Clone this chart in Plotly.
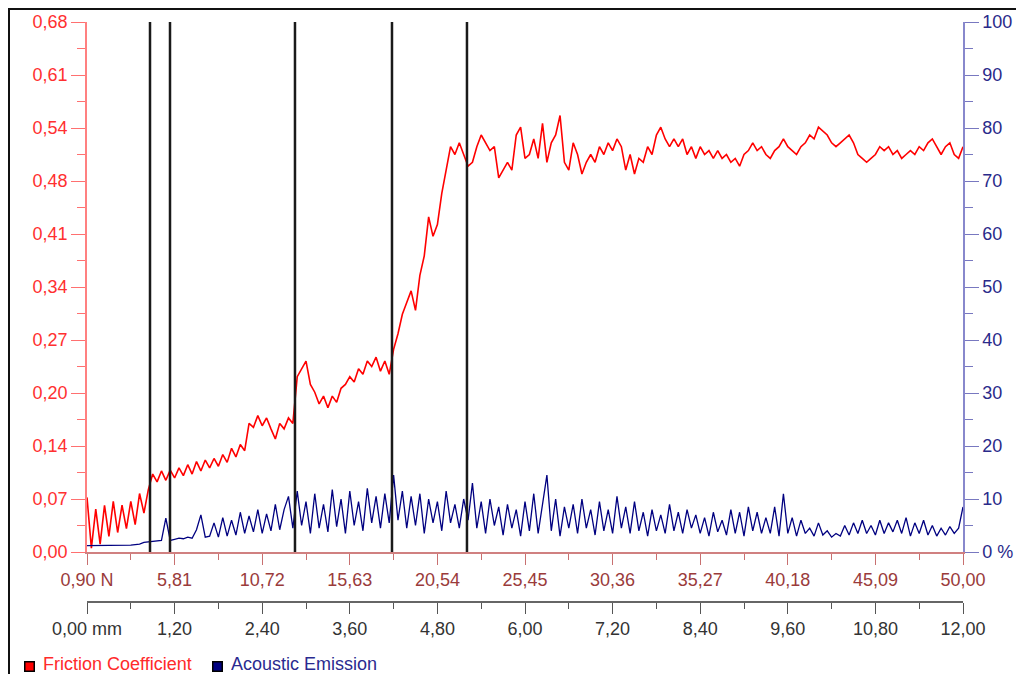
import plotly.graph_objects as go

# ---------------- data ----------------
# sampling grid along the scratch, in mm (0.06 mm steps, 0 .. 12 mm)
dist_mm = [round(i * 0.06, 2) for i in range(201)]

friction = [
    0.070, 0.005, 0.055, 0.010, 0.060, 0.020, 0.065, 0.025, 0.060, 0.030,
    0.065, 0.035, 0.075, 0.050, 0.080, 0.100, 0.090, 0.104, 0.092, 0.105,
    0.095, 0.108, 0.098, 0.112, 0.100, 0.116, 0.104, 0.118, 0.108, 0.120,
    0.110, 0.125, 0.115, 0.133, 0.122, 0.138, 0.130, 0.165, 0.160, 0.175,
    0.162, 0.172, 0.158, 0.145, 0.165, 0.158, 0.172, 0.165, 0.225, 0.235,
    0.245, 0.215, 0.205, 0.190, 0.200, 0.185, 0.200, 0.192, 0.210, 0.215,
    0.225, 0.218, 0.235, 0.228, 0.245, 0.238, 0.250, 0.232, 0.245, 0.228,
    0.260, 0.280, 0.305, 0.320, 0.335, 0.310, 0.355, 0.380, 0.430, 0.405,
    0.420, 0.460, 0.490, 0.520, 0.510, 0.525, 0.510, 0.495, 0.500, 0.520,
    0.535, 0.525, 0.515, 0.520, 0.480, 0.490, 0.500, 0.490, 0.535, 0.545,
    0.505, 0.510, 0.530, 0.505, 0.550, 0.500, 0.525, 0.535, 0.560, 0.500,
    0.490, 0.525, 0.510, 0.485, 0.500, 0.510, 0.500, 0.520, 0.510, 0.525,
    0.515, 0.530, 0.520, 0.490, 0.510, 0.485, 0.505, 0.500, 0.520, 0.510,
    0.535, 0.545, 0.530, 0.520, 0.530, 0.520, 0.530, 0.510, 0.520, 0.505,
    0.520, 0.510, 0.515, 0.505, 0.515, 0.505, 0.510, 0.500, 0.505, 0.495,
    0.510, 0.515, 0.525, 0.515, 0.520, 0.510, 0.505, 0.515, 0.520, 0.530,
    0.520, 0.515, 0.510, 0.520, 0.525, 0.535, 0.530, 0.545, 0.540, 0.535,
    0.525, 0.520, 0.525, 0.530, 0.535, 0.525, 0.510, 0.505, 0.500, 0.505,
    0.510, 0.520, 0.515, 0.520, 0.510, 0.515, 0.505, 0.510, 0.515, 0.510,
    0.520, 0.515, 0.525, 0.530, 0.520, 0.510, 0.520, 0.525, 0.510, 0.505,
    0.520,
]

acoustic = [
    1.2, 1.2, 1.2, 1.2, 1.2, 1.2, 1.3, 1.3, 1.3, 1.3,
    1.3, 1.4, 1.5, 1.8, 1.9, 2.0, 2.1, 2.2, 6.4, 2.2,
    2.4, 2.6, 2.5, 2.8, 2.6, 4.2, 7.0, 2.8, 3.0, 5.5,
    2.8, 6.5, 3.0, 6.0, 3.2, 7.5, 3.5, 6.8, 3.8, 8.0,
    3.5, 7.2, 4.0, 9.0, 4.2, 8.0, 10.5, 4.5, 11.5, 5.0,
    9.5, 3.5, 11.0, 4.5, 9.0, 3.8, 11.8, 4.8, 10.0, 3.5,
    11.5, 5.0, 9.5, 4.0, 12.0, 5.5, 10.5, 4.5, 11.0, 5.5,
    14.5, 6.0, 11.5, 4.5, 10.5, 5.0, 11.0, 3.5, 10.0, 5.5,
    9.5, 4.0, 11.5, 5.5, 9.0, 4.5, 10.0, 6.0, 13.0, 4.5,
    9.5, 3.5, 10.0, 5.0, 8.5, 3.2, 9.0, 4.5, 8.0, 3.0,
    9.5, 4.0, 11.0, 3.5, 9.0, 14.5, 4.0, 10.0, 3.0, 8.5,
    4.5, 9.0, 3.5, 10.0, 4.5, 8.0, 3.2, 9.5, 4.0, 8.0,
    3.5, 10.5, 4.5, 8.5, 3.5, 9.5, 4.0, 7.5, 3.0, 8.0,
    4.0, 7.0, 3.5, 9.0, 4.0, 7.5, 3.5, 8.0, 4.5, 7.0,
    3.5, 6.5, 3.0, 7.5, 3.8, 6.0, 3.2, 8.0, 3.5, 7.5,
    3.0, 8.5, 4.0, 7.5, 3.5, 6.5, 3.5, 8.5, 3.0, 11.0,
    3.5, 6.5, 3.0, 6.0, 3.5, 4.5, 3.0, 5.5, 3.2, 4.0,
    2.8, 3.5, 3.0, 5.0, 3.2, 5.5, 3.5, 6.0, 3.5, 5.0,
    3.2, 6.0, 3.5, 5.5, 3.8, 6.0, 3.5, 6.5, 3.0, 5.5,
    3.5, 6.0, 3.2, 5.0, 3.0, 4.5, 3.2, 4.8, 3.5, 4.5,
    8.5,
]

# positions (mm) of the vertical event markers
event_mm = [0.863, 1.137, 2.849, 4.178, 5.205]

# tick labels
mm_ticks = [0.0, 1.2, 2.4, 3.6, 4.8, 6.0, 7.2, 8.4, 9.6, 10.8, 12.0]
load_labels = ["0,90 N", "5,81", "10,72", "15,63", "20,54", "25,45",
               "30,36", "35,27", "40,18", "45,09", "50,00"]
mm_labels = ["0,00 mm", "1,20", "2,40", "3,60", "4,80", "6,00",
             "7,20", "8,40", "9,60", "10,80", "12,00"]
fc_ticks = [0.0, 0.068, 0.136, 0.204, 0.272, 0.34, 0.408, 0.476, 0.544, 0.612, 0.68]
fc_labels = ["0,00", "0,07", "0,14", "0,20", "0,27", "0,34",
             "0,41", "0,48", "0,54", "0,61", "0,68"]
ae_ticks = [0, 10, 20, 30, 40, 50, 60, 70, 80, 90, 100]
ae_labels = ["0 %", "10", "20", "30", "40", "50", "60", "70", "80", "90", "100"]
series_names = ["Friction Coefficient", "Acoustic Emission"]

# ---------------- layout geometry (screen pixel -> paper fraction) ----------------
# the page body has an 8 px margin, so the figure starts at screen (8, 8)
OFF = 8
W, H = 1024 - 2 * OFF, 682 - 2 * OFF
def fx(px):
    return (px - OFF) / W
def fy(py):
    return (H - (py - OFF)) / H

FONT = "Liberation Sans, Arial, sans-serif"
FS = 18
RED = "#ff0000"
NAVY = "#000080"

fig = go.Figure()
fig.add_trace(go.Scatter(x=dist_mm, y=friction, mode="lines", name=series_names[0],
                         line=dict(color=RED, width=1.6),
                         xaxis="x", yaxis="y", showlegend=False))
fig.add_trace(go.Scatter(x=dist_mm, y=acoustic, mode="lines", name=series_names[1],
                         line=dict(color=NAVY, width=1.3),
                         xaxis="x2", yaxis="y2", showlegend=False))

shapes = []
for ev in event_mm:
    shapes.append(dict(type="line", xref="x", yref="y domain",
                       x0=ev, x1=ev, y0=0, y1=1,
                       line=dict(color="#1a1a1a", width=2.5), layer="above"))
# outer frame of the picture (top and left edges visible)
shapes.append(dict(type="rect", xref="paper", yref="paper",
                   x0=fx(9), x1=fx(1040), y0=fy(700), y1=fy(9),
                   line=dict(color="#111111", width=2), fillcolor="rgba(0,0,0,0)"))

# legend drawn with annotations (colour box + coloured label)
LEG_Y = 664
annotations = []
for name, col, txtcol, box_x, txt_x in [
        (series_names[0], RED, "#ff2a2a", 29.5, 42),
        (series_names[1], NAVY, "#2a2a90", 217.5, 230)]:
    annotations.append(dict(xref="paper", yref="paper", x=fx(box_x), y=fy(LEG_Y + 2),
                            xanchor="center", yanchor="middle", text=" ",
                            showarrow=False, width=8, height=8, borderpad=0,
                            bgcolor=col, bordercolor="#000000", borderwidth=1.5,
                            font=dict(size=6)))
    annotations.append(dict(xref="paper", yref="paper", x=fx(txt_x), y=fy(LEG_Y),
                            xanchor="left", yanchor="middle", text=name,
                            height=18, borderpad=0, valign="middle",
                            showarrow=False, font=dict(family=FONT, size=FS, color=txtcol)))

XD = [fx(87), fx(963)]
YD = [fy(552), fy(22)]

fig.update_layout(
    width=W, height=H,
    margin=dict(l=0, r=0, t=0, b=0, pad=0),
    paper_bgcolor="white", plot_bgcolor="white",
    font=dict(family=FONT, size=FS),
    shapes=shapes, annotations=annotations,
    showlegend=False,
    xaxis=dict(range=[0, 12], domain=XD, anchor="y", automargin=False,
               tickmode="array", tickvals=mm_ticks, ticktext=load_labels,
               ticks="outside", ticklen=11, tickwidth=1.2, tickcolor="#c87070",
               showline=True, linecolor="#d08080", linewidth=1.5,
               tickfont=dict(color="#9a3b3b", size=FS),
               minor=dict(tickmode="linear", tick0=0, dtick=0.6, ticks="outside",
                          ticklen=6, tickcolor="#c87070", tickwidth=1.2),
               showgrid=False, zeroline=False),
    xaxis2=dict(range=[0, 12], domain=XD, overlaying="x", anchor="free",
                position=fy(602), side="bottom", automargin=False,
                tickmode="array", tickvals=mm_ticks, ticktext=mm_labels,
                ticks="outside", ticklen=11, tickwidth=1.2, tickcolor="#555555",
                showline=True, linecolor="#666666", linewidth=1.5,
                tickfont=dict(color="#333333", size=FS),
                minor=dict(tickmode="linear", tick0=0, dtick=0.6, ticks="outside",
                           ticklen=6, tickcolor="#555555", tickwidth=1.2),
                showgrid=False, zeroline=False),
    yaxis=dict(range=[0, 0.68], domain=YD, anchor="x", automargin=False,
               tickmode="array", tickvals=fc_ticks, ticktext=fc_labels,
               ticks="outside", ticklen=14, tickwidth=1.2, tickcolor="#ff7070",
               showline=True, linecolor="#ff8080", linewidth=1.5,
               tickfont=dict(color="#ff3030", size=FS),
               minor=dict(tickmode="linear", tick0=0, dtick=0.034, ticks="outside",
                          ticklen=8, tickcolor="#ff7070", tickwidth=1.2),
               showgrid=False, zeroline=False),
    yaxis2=dict(range=[0, 100], domain=YD, anchor="x", automargin=False,
                overlaying="y", side="right",
                tickmode="array", tickvals=ae_ticks, ticktext=ae_labels,
                ticks="outside", ticklen=14, tickwidth=1.2, tickcolor="#7878c0",
                showline=True, linecolor="#8888cc", linewidth=1.5,
                tickfont=dict(color="#2a2a8a", size=FS),
                minor=dict(tickmode="linear", tick0=0, dtick=5, ticks="outside",
                           ticklen=8, tickcolor="#7878c0", tickwidth=1.2),
                showgrid=False, zeroline=False),
)

fig.write_html("out.html")
